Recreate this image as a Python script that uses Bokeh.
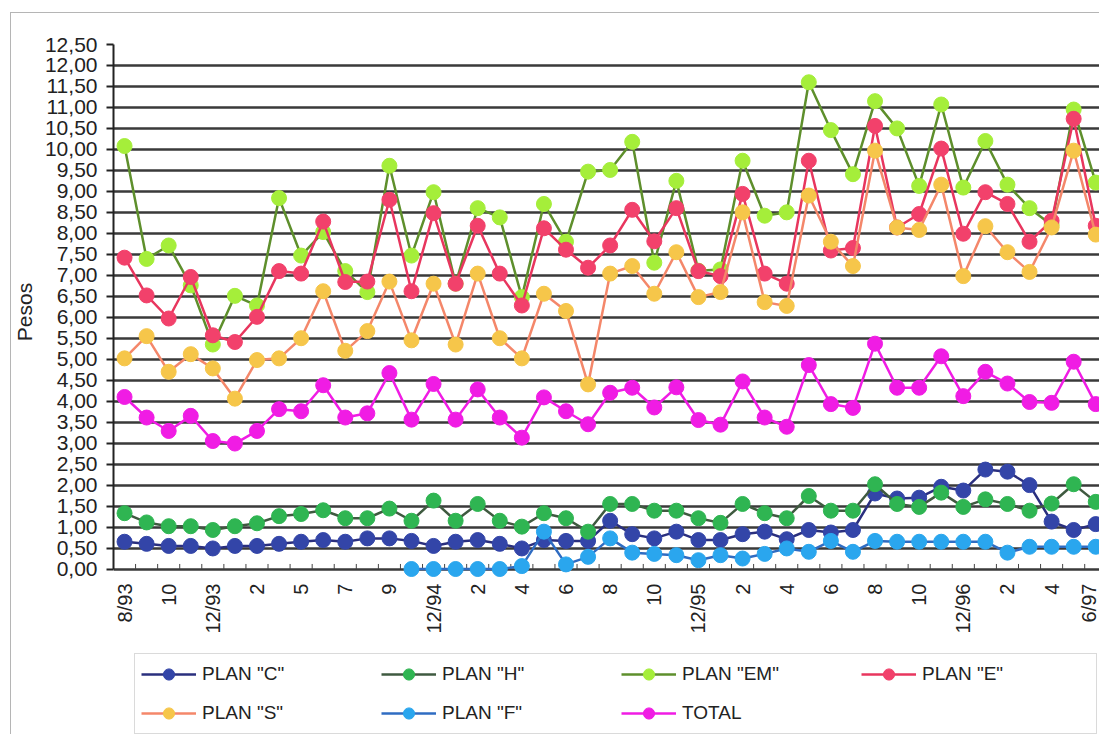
import math
import numpy as np
from bokeh.plotting import figure
from bokeh.layouts import column
from bokeh.models import FixedTicker, CustomJSTickFormatter, Legend, LegendItem, Range1d
from bokeh.embed import file_html
from bokeh.resources import INLINE

# ---------------- data ----------------
x_labels = ["8/93", "", "10", "", "12/93", "", "2", "", "5", "", "7", "", "9", "",
            "12/94", "", "2", "", "4", "", "6", "", "8", "", "10", "", "12/95", "",
            "2", "", "4", "", "6", "", "8", "", "10", "", "12/96", "", "2", "", "4",
            "", "6/97"]

plan_c = [0.65, 0.60, 0.55, 0.55, 0.49, 0.55, 0.55, 0.60, 0.65, 0.69, 0.65, 0.73,
          0.73, 0.67, 0.55, 0.65, 0.69, 0.60, 0.49, 0.69, 0.67, 0.67, 1.15, 0.83,
          0.73, 0.89, 0.69, 0.69, 0.83, 0.89, 0.71, 0.93, 0.87, 0.93, 1.80, 1.68,
          1.70, 1.96, 1.87, 2.37, 2.32, 2.00, 1.13, 0.93, 1.07]

plan_h = [1.33, 1.11, 1.02, 1.02, 0.93, 1.02, 1.09, 1.26, 1.31, 1.40, 1.21, 1.21,
          1.44, 1.15, 1.63, 1.15, 1.55, 1.15, 1.01, 1.33, 1.21, 0.89, 1.55, 1.55,
          1.39, 1.39, 1.21, 1.10, 1.55, 1.33, 1.21, 1.74, 1.39, 1.39, 2.02, 1.55,
          1.48, 1.82, 1.48, 1.66, 1.55, 1.39, 1.56, 2.02, 1.60]

plan_em = [10.08, 7.39, 7.71, 6.76, 5.35, 6.51, 6.28, 8.84, 7.47, 8.03, 7.10, 6.60,
           9.61, 7.47, 8.98, 6.80, 8.60, 8.38, 6.48, 8.70, 7.80, 9.47, 9.51, 10.18,
           7.30, 9.25, 7.11, 7.14, 9.73, 8.42, 8.50, 11.60, 10.46, 9.41, 11.15, 10.50,
           9.13, 11.07, 9.09, 10.20, 9.16, 8.60, 8.20, 10.95, 9.21]

plan_e = [7.42, 6.52, 5.97, 6.96, 5.57, 5.41, 6.01, 7.10, 7.04, 8.28, 6.84, 6.85,
          8.80, 6.62, 8.48, 6.80, 8.18, 7.04, 6.28, 8.12, 7.61, 7.18, 7.71, 8.56,
          7.81, 8.60, 7.10, 6.98, 8.94, 7.04, 6.80, 9.73, 7.59, 7.65, 10.56, 8.14,
          8.46, 10.02, 7.99, 8.98, 8.70, 7.80, 8.30, 10.73, 8.18]

plan_s = [5.02, 5.55, 4.70, 5.12, 4.78, 4.06, 4.98, 5.02, 5.50, 6.62, 5.20, 5.67,
          6.85, 5.45, 6.80, 5.35, 7.04, 5.50, 5.02, 6.56, 6.15, 4.40, 7.04, 7.22,
          6.56, 7.55, 6.48, 6.60, 8.50, 6.36, 6.27, 8.90, 7.80, 7.22, 9.97, 8.14,
          8.08, 9.16, 6.98, 8.17, 7.55, 7.08, 8.14, 9.97, 7.97]

plan_f = [None] * 13 + [0.00, 0.00, 0.00, 0.00, 0.00, 0.07, 0.89, 0.11, 0.29, 0.73,
                         0.39, 0.36, 0.33, 0.21, 0.33, 0.25, 0.36, 0.49, 0.41, 0.67,
                         0.41, 0.67, 0.65, 0.65, 0.65, 0.65, 0.65, 0.39, 0.53, 0.53,
                         0.53, 0.53]

total = [4.10, 3.61, 3.29, 3.65, 3.05, 2.99, 3.29, 3.81, 3.76, 4.38, 3.61, 3.71,
         4.67, 3.56, 4.41, 3.56, 4.28, 3.61, 3.13, 4.09, 3.76, 3.45, 4.20, 4.32,
         3.85, 4.33, 3.55, 3.44, 4.47, 3.61, 3.39, 4.86, 3.93, 3.84, 5.37, 4.32,
         4.32, 5.07, 4.12, 4.70, 4.42, 3.98, 3.96, 4.94, 3.93]

series_names = ['PLAN "C"', 'PLAN "H"', 'PLAN "EM"', 'PLAN "E"', 'PLAN "S"',
                'PLAN "F"', 'TOTAL']
series_values = [plan_c, plan_h, plan_em, plan_e, plan_s, plan_f, total]
line_colors = ["#2a2f7e", "#3f5a40", "#5e8f2c", "#e8365e", "#f4876a", "#2f6cc2", "#f01ce4"]
marker_colors = ["#3345a8", "#2fb552", "#a5ee3a", "#f2416b", "#f6c64a", "#2aa6ee", "#f01ce4"]

FONT = "Liberation Sans"
TEXT = "#222222"

x = list(range(len(x_labels)))

p = figure(width=1099, height=652, output_backend="svg", toolbar_location=None,
           x_range=Range1d(-0.5, 44.17), y_range=Range1d(-0.25, 12.5),
           min_border_left=113, min_border_top=44, min_border_right=0,
           min_border_bottom=73)
p.outline_line_color = None
p.background_fill_color = "white"
p.border_fill_color = None

# y axis
p.yaxis.ticker = FixedTicker(ticks=[i * 0.5 for i in range(26)], minor_ticks=[])
p.yaxis.formatter = CustomJSTickFormatter(code="return tick.toFixed(2).replace('.', ',');")
p.yaxis.bounds = (0, 12.5)
p.yaxis.major_tick_out = 7
p.yaxis.major_tick_in = 0
p.yaxis.major_tick_line_width = 2
p.yaxis.axis_line_width = 2
p.yaxis.axis_line_color = "#222222"
p.yaxis.major_tick_line_color = "#222222"
p.yaxis.major_label_text_font = FONT
p.yaxis.major_label_text_font_size = "21px"
p.yaxis.major_label_text_color = TEXT
p.yaxis.major_label_standoff = 9
p.yaxis.axis_label = "Pesos"
p.yaxis.axis_label_text_font = FONT
p.yaxis.axis_label_text_font_size = "21px"
p.yaxis.axis_label_text_font_style = "normal"
p.yaxis.axis_label_text_color = TEXT
p.yaxis.axis_label_standoff = 6

# x axis: labels only; the zero line is the dark grid line
p.xaxis.ticker = FixedTicker(ticks=list(range(0, len(x_labels), 2)), minor_ticks=[])
p.xaxis.major_label_overrides = {i: lab for i, lab in enumerate(x_labels) if lab}
p.xaxis.major_tick_line_color = None
p.xaxis.major_tick_in = 0
p.xaxis.major_tick_out = 0
p.xaxis.minor_tick_in = 0
p.xaxis.minor_tick_out = 0
p.xaxis.axis_line_color = None
p.xaxis.major_label_orientation = math.pi / 2
p.xaxis.major_label_text_font = FONT
p.xaxis.major_label_text_font_size = "20px"
p.xaxis.major_label_text_color = TEXT
p.xaxis.major_label_standoff = 4

p.xgrid.grid_line_color = None
p.ygrid.grid_line_color = "#3a3a3a"
p.ygrid.grid_line_width = 2.5

# small category-boundary ticks standing on the zero line
bounds_x = [i + 0.5 for i in range(-1, len(x_labels))]
p.segment(x0=bounds_x, y0=[0] * len(bounds_x), x1=bounds_x, y1=[0.12] * len(bounds_x),
          line_color="#444444", line_width=1)

series_y = []
for vals, lc, mc in zip(series_values, line_colors, marker_colors):
    y = np.array([np.nan if v is None else v for v in vals], dtype=float)
    series_y.append(y)
    p.line(x, y, line_color=lc, line_width=2.5)
    p.scatter(x, y, size=15, fill_color=mc, line_color=mc, marker="circle")

# legend strip below the chart: same series, drawn outside its (empty) view
lg = figure(width=1099, height=82, output_backend="svg", toolbar_location=None,
            x_range=Range1d(0, 1), y_range=Range1d(100, 101),
            x_axis_type=None, y_axis_type=None, min_border=0)
lg.grid.visible = False
lg.outline_line_color = None
lg.background_fill_color = None
lg.border_fill_color = None

items = []
for name, y, lc, mc in zip(series_names, series_y, line_colors, marker_colors):
    lr = lg.line(x, y, line_color=lc, line_width=2.5)
    sr = lg.scatter(x, y, size=15, fill_color=mc, line_color=mc, marker="circle")
    items.append(LegendItem(label=name, renderers=[lr, sr]))

legend = Legend(items=items, orientation="horizontal", ncols=4,
                location=(21, 0), padding=6, spacing=11, margin=0,
                glyph_width=55, glyph_height=28, label_width=168, label_height=28,
                label_standoff=6, label_text_font=FONT, label_text_font_size="19px",
                label_text_color=TEXT, border_line_color="#b5b5b5",
                border_line_width=1, background_fill_color="white")
lg.add_layout(legend, "center")

layout = column(p, lg, spacing=0, styles={
    "background": ("linear-gradient(#b5b5b5, #b5b5b5) 10px 12px / 1px 100% no-repeat, "
                   "linear-gradient(#b5b5b5, #b5b5b5) 10px 12px / 100% 1px no-repeat, "
                   "white")})

open("out.html", "w").write(file_html(layout, INLINE))
